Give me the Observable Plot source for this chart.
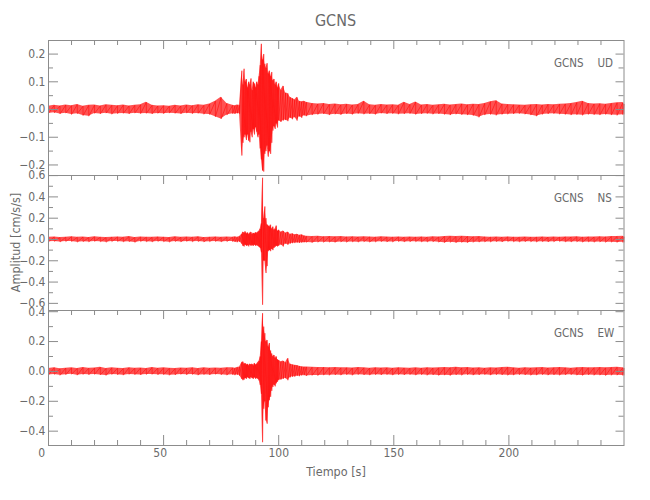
<!DOCTYPE html>
<html><head><meta charset="utf-8">
<script src="https://cdn.jsdelivr.net/npm/d3@7"></script>
<script src="https://cdn.jsdelivr.net/npm/@observablehq/plot@0.6"></script>
<style>
body{margin:0;background:#fff;}
#wrap{position:relative;width:650px;height:500px;overflow:hidden;}
#wrap svg{position:absolute;left:0;top:0;font-stretch:condensed;}
</style></head><body>
<div id="wrap"></div>
<script>
// ---------- data ----------
const title = "GCNS";
const station = "GCNS";
const components = ["UD", "NS", "EW"];
const xLabel = "Tiempo [s]";
const yLabel = "Amplitud [cm/s/s]";

const xMajor = [0, 50, 100, 150, 200];
const xMinor = [10,20,30,40,60,70,80,90,110,120,130,140,160,170,180,190,210,220,230,240];
const xDomain = [0, 250];

const udDomain = [-0.238, 0.249];
const udMajor = [-0.2, -0.1, 0, 0.1, 0.2];
const udMinor = [-0.15, -0.05, 0.05, 0.15];
const nsDomain = [-0.667, 0.601];
const nsMajor = [-0.6, -0.4, -0.2, 0, 0.2, 0.4, 0.6];
const nsMinor = [-0.5, -0.3, -0.1, 0.1, 0.3, 0.5];
const ewDomain = [-0.496, 0.408];
const ewMajor = [-0.4, -0.2, 0, 0.2, 0.4];
const ewMinor = [-0.3, -0.1, 0.1, 0.3];

// time of each envelope sample (s)
const time = [0,2.5,5,7.5,10,12.5,15,17.5,20,22.5,25,27.5,30,32.5,35,37.5,40,42.5,45,47.5,50,52.5,55,57.5,60,62.5,65,67.5,70,72.5,75,77.5,
80,81,82,83,
84,84.5,85,85.5,86,86.5,87,87.5,88,88.5,89,89.5,90,90.5,91,91.5,92,92.5,93,93.5,94,94.5,95,95.5,96,96.5,97,97.5,98,98.5,99,99.5,
100,101,102,103,104,105,106,107,108,109,110,111,
112,114.5,117,119.5,122,124.5,127,129.5,132,134.5,137,139.5,142,144.5,147,149.5,152,154.5,157,159.5,162,164.5,167,169.5,172,174.5,177,179.5,182,184.5,187,189.5,192,194.5,197,199.5,202,204.5,207,209.5,212,214.5,217,219.5,222,224.5,227,229.5,232,234.5,237,239.5,242,244.5,247,249.5,250];

// UD component: upper / lower envelope (cm/s/s)
const udHi = [0.012,0.015,0.013,0.016,0.014,0.018,0.012,0.015,0.016,0.013,
0.017,0.015,0.014,0.016,0.013,0.015,0.017,0.026,0.015,0.013,
0.014,0.012,0.015,0.013,0.016,0.014,0.017,0.015,0.02,0.03,
0.044,0.022,
0.015,0.014,0.016,0.015,
0.14,0.09,0.147,0.1,0.11,0.08,0.1,0.09,0.112,0.07,
0.1,0.094,0.08,0.1,0.09,0.12,0.16,0.237,0.18,0.2,
0.165,0.15,0.167,0.13,0.14,0.12,0.135,0.105,0.11,0.09,
0.1,0.08,
0.094,0.07,0.085,0.06,0.058,0.044,0.04,0.035,0.044,0.03,0.028,0.03,
0.026,0.022,0.02,0.022,0.018,0.02,0.017,0.019,0.016,0.018,
0.03,0.017,0.015,0.018,0.016,0.017,0.015,0.026,0.018,0.027,
0.016,0.018,0.015,0.017,0.019,0.016,0.018,0.02,0.017,0.019,
0.018,0.022,0.028,0.032,0.02,0.018,0.017,0.016,0.015,0.017,
0.018,0.016,0.018,0.017,0.019,0.02,0.022,0.025,0.03,0.022,
0.02,0.021,0.019,0.022,0.024,0.025,0.02];
const udLo = [-0.014,-0.012,-0.016,-0.013,-0.018,-0.015,-0.022,-0.024,-0.014,-0.016,
-0.013,-0.017,-0.015,-0.014,-0.016,-0.013,-0.015,-0.014,-0.016,-0.014,
-0.015,-0.013,-0.014,-0.016,-0.013,-0.015,-0.014,-0.017,-0.018,-0.026,
-0.034,-0.02,
-0.015,-0.016,-0.014,-0.015,
-0.166,-0.12,-0.1,-0.09,-0.11,-0.09,-0.112,-0.118,-0.08,-0.1,
-0.07,-0.09,-0.064,-0.08,-0.1,-0.09,-0.14,-0.18,-0.22,-0.224,
-0.16,-0.15,-0.13,-0.17,-0.15,-0.16,-0.12,-0.076,-0.06,-0.07,
-0.05,-0.065,
-0.04,-0.045,-0.04,-0.038,-0.042,-0.03,-0.035,-0.028,-0.04,-0.025,-0.03,-0.022,
-0.024,-0.02,-0.018,-0.016,-0.02,-0.017,-0.019,-0.016,-0.018,-0.015,
-0.017,-0.016,-0.018,-0.014,-0.016,-0.015,-0.017,-0.016,-0.015,-0.018,
-0.016,-0.015,-0.017,-0.016,-0.018,-0.02,-0.017,-0.019,-0.02,-0.022,
-0.028,-0.02,-0.018,-0.021,-0.018,-0.017,-0.016,-0.015,-0.017,-0.02,
-0.024,-0.018,-0.016,-0.015,-0.017,-0.018,-0.02,-0.019,-0.021,-0.018,
-0.019,-0.02,-0.018,-0.02,-0.021,-0.019,-0.016];

// NS component
const nsHi = [0.02,0.024,0.018,0.022,0.026,0.02,0.023,0.019,0.025,0.021,
0.018,0.022,0.024,0.02,0.027,0.019,0.023,0.021,0.02,0.024,
0.022,0.018,0.025,0.02,0.023,0.021,0.026,0.019,0.022,0.024,
0.02,0.023,
0.022,0.025,0.021,0.028,
0.05,0.07,0.06,0.075,0.055,0.065,0.05,0.06,0.07,0.05,
0.06,0.055,0.065,0.06,0.07,0.08,0.1,0.15,0.58,0.2,
0.31,0.2,0.14,0.13,0.12,0.138,0.1,0.12,0.09,0.1,
0.13,0.08,
0.09,0.07,0.08,0.06,0.07,0.05,0.055,0.045,0.05,0.04,0.045,0.035,
0.03,0.028,0.03,0.026,0.028,0.025,0.027,0.024,0.026,0.023,
0.025,0.024,0.022,0.025,0.023,0.022,0.024,0.021,0.023,0.022,
0.024,0.022,0.025,0.023,0.028,0.03,0.027,0.03,0.028,0.026,
0.027,0.024,0.022,0.023,0.021,0.024,0.022,0.02,0.023,0.021,
0.022,0.024,0.021,0.023,0.022,0.024,0.023,0.025,0.022,0.024,
0.023,0.026,0.024,0.027,0.028,0.03,0.026];
const nsLo = [-0.022,-0.018,-0.024,-0.02,-0.019,-0.025,-0.021,-0.023,-0.018,-0.022,
-0.026,-0.02,-0.019,-0.023,-0.021,-0.028,-0.02,-0.022,-0.024,-0.019,
-0.021,-0.025,-0.02,-0.023,-0.018,-0.022,-0.02,-0.024,-0.021,-0.019,
-0.023,-0.02,
-0.02,-0.023,-0.026,-0.022,
-0.04,-0.06,-0.066,-0.05,-0.06,-0.055,-0.065,-0.05,-0.06,-0.055,
-0.06,-0.05,-0.06,-0.055,-0.06,-0.07,-0.08,-0.12,-0.613,-0.2,
-0.2,-0.315,-0.25,-0.11,-0.1,-0.11,-0.09,-0.1,-0.08,-0.07,
-0.06,-0.066,
-0.06,-0.05,-0.066,-0.04,-0.05,-0.04,-0.035,-0.034,-0.03,-0.032,-0.03,-0.028,
-0.028,-0.03,-0.026,-0.027,-0.025,-0.028,-0.024,-0.026,-0.023,-0.025,
-0.022,-0.025,-0.024,-0.021,-0.023,-0.024,-0.02,-0.023,-0.022,-0.021,
-0.023,-0.024,-0.022,-0.026,-0.03,-0.027,-0.031,-0.028,-0.03,-0.027,
-0.025,-0.023,-0.024,-0.021,-0.023,-0.02,-0.022,-0.024,-0.021,-0.022,
-0.024,-0.021,-0.023,-0.022,-0.02,-0.023,-0.024,-0.022,-0.025,-0.023,
-0.026,-0.024,-0.027,-0.025,-0.028,-0.027,-0.024];

// EW component
const ewHi = [0.02,0.025,0.018,0.022,0.024,0.02,0.026,0.021,0.023,0.028,
0.02,0.024,0.022,0.019,0.025,0.021,0.023,0.02,0.026,0.022,
0.024,0.021,0.019,0.023,0.022,0.025,0.02,0.024,0.021,0.023,
0.022,0.025,
0.024,0.022,0.026,0.03,
0.06,0.065,0.05,0.055,0.045,0.05,0.04,0.05,0.045,0.05,
0.04,0.055,0.045,0.05,0.06,0.07,0.1,0.2,0.39,0.3,
0.256,0.2,0.21,0.166,0.19,0.14,0.12,0.1,0.11,0.09,
0.1,0.08,
0.075,0.065,0.07,0.06,0.088,0.05,0.045,0.042,0.04,0.035,0.032,0.03,
0.03,0.028,0.026,0.027,0.025,0.026,0.024,0.025,0.023,0.026,
0.024,0.022,0.025,0.023,0.024,0.022,0.025,0.023,0.021,0.024,
0.022,0.025,0.023,0.024,0.026,0.025,0.028,0.024,0.026,0.023,
0.025,0.022,0.024,0.023,0.026,0.028,0.024,0.022,0.025,0.023,
0.024,0.026,0.023,0.025,0.027,0.024,0.022,0.025,0.026,0.024,
0.025,0.027,0.024,0.026,0.028,0.025,0.022];
const ewLo = [-0.024,-0.02,-0.026,-0.022,-0.019,-0.025,-0.021,-0.023,-0.02,-0.024,
-0.027,-0.021,-0.023,-0.025,-0.02,-0.022,-0.024,-0.021,-0.02,-0.023,
-0.022,-0.026,-0.024,-0.02,-0.023,-0.021,-0.025,-0.022,-0.024,-0.02,
-0.023,-0.025,
-0.022,-0.025,-0.023,-0.028,
-0.05,-0.059,-0.055,-0.045,-0.05,-0.04,-0.045,-0.05,-0.04,-0.045,
-0.05,-0.04,-0.05,-0.045,-0.05,-0.06,-0.09,-0.15,-0.474,-0.25,
-0.2,-0.328,-0.35,-0.24,-0.193,-0.17,-0.13,-0.104,-0.09,-0.1,
-0.08,-0.07,
-0.059,-0.055,-0.05,-0.045,-0.059,-0.04,-0.036,-0.035,-0.03,-0.032,-0.028,-0.026,
-0.03,-0.027,-0.028,-0.025,-0.026,-0.024,-0.025,-0.023,-0.026,-0.022,
-0.024,-0.025,-0.023,-0.024,-0.022,-0.025,-0.023,-0.024,-0.022,-0.025,
-0.023,-0.026,-0.024,-0.027,-0.025,-0.028,-0.024,-0.026,-0.023,-0.025,
-0.024,-0.022,-0.025,-0.023,-0.024,-0.026,-0.025,-0.023,-0.024,-0.026,
-0.025,-0.023,-0.025,-0.024,-0.026,-0.024,-0.023,-0.025,-0.027,-0.024,
-0.026,-0.025,-0.028,-0.026,-0.025,-0.027,-0.024];

// ---------- layout / style ----------
const W = 650, H = 500, ML = 48, MR = 26.5;
const FONT = "'DejaVu Sans Condensed', 'DejaVu Sans', sans-serif";
const axisColor = "#8c8c8c", textColor = "#6a6a6a";
const traceColor = "#ff0000";

const panels = [
  {comp: components[0], hi: udHi, lo: udLo, domain: udDomain, major: udMajor, minor: udMinor, top: 40, bottom: 175},
  {comp: components[1], hi: nsHi, lo: nsLo, domain: nsDomain, major: nsMajor, minor: nsMinor, top: 175, bottom: 310},
  {comp: components[2], hi: ewHi, lo: ewLo, domain: ewDomain, major: ewMajor, minor: ewMinor, top: 310, bottom: 445}
];

const wrap = document.getElementById("wrap");
const fw = W - ML - MR;

panels.forEach((p, k) => {
  const last = k === panels.length - 1;
  const fh = p.bottom - p.top;
  const rows = time.map((t, i) => ({t, hi: p.hi[i], lo: p.lo[i]}));
  const zig = rows.flatMap(r => [{t: r.t, a: r.hi}, {t: r.t, a: r.lo}]);
  const marks = [
    Plot.areaY(rows, {x: "t", y1: "lo", y2: "hi", fill: traceColor, fillOpacity: 0.68}),
    Plot.line(zig, {x: "t", y: "a", stroke: traceColor, strokeWidth: 0.6, strokeOpacity: 0.85}),
    Plot.frame({stroke: axisColor}),
    Plot.ruleY(p.major, {stroke: axisColor, insetRight: fw - 10}),
    Plot.ruleY(p.minor, {stroke: axisColor, insetRight: fw - 5}),
    Plot.ruleY(p.major, {stroke: axisColor, insetLeft: fw - 8}),
    Plot.ruleY(p.minor, {stroke: axisColor, insetLeft: fw - 5}),
    Plot.ruleX(xMajor, {stroke: axisColor, insetBottom: fh - 9}),
    Plot.ruleX(xMinor, {stroke: axisColor, insetBottom: fh - 5}),
    Plot.axisY(p.major, {anchor: "left", tickSize: 0, tickPadding: 3, tickFormat: d3.format(".1f"), label: null, fontSize: 12, color: textColor}),
    Plot.text([station], {text: d => d, frameAnchor: "top-right", textAnchor: "end", lineAnchor: "bottom", dx: -40.5, dy: 26, fontSize: 11.5, fill: textColor}),
    Plot.text([p.comp], {text: d => d, frameAnchor: "top-right", textAnchor: "start", lineAnchor: "bottom", dx: -26.5, dy: 26, fontSize: 11.5, fill: textColor})
  ];
  if (last) {
    marks.push(
      Plot.ruleX(xMajor, {stroke: axisColor, insetTop: fh - 10}),
      Plot.ruleX(xMinor, {stroke: axisColor, insetTop: fh - 5}),
      Plot.axisX(xMajor, {anchor: "bottom", tickSize: 0, tickPadding: 3, label: null, fontSize: 12, color: textColor,
        tickFormat: d => String(d).padEnd(3, "\u2007")})
    );
  }
  const svg = Plot.plot({
    width: W, height: H,
    marginLeft: ML, marginRight: MR, marginTop: p.top, marginBottom: H - p.bottom,
    x: {type: "linear", domain: xDomain, axis: last ? undefined : null},
    y: {type: "linear", domain: p.domain},
    style: {background: "transparent", overflow: "visible", fontFamily: FONT, fontSize: "12px", color: textColor},
    marks
  });
  wrap.appendChild(svg);
});

// titles
const ns = "http://www.w3.org/2000/svg";
const lab = document.createElementNS(ns, "svg");
lab.setAttribute("width", W); lab.setAttribute("height", H);
lab.style.fontFamily = FONT;
function addText(str, x, y, size, rot) {
  const t = document.createElementNS(ns, "text");
  t.textContent = str;
  t.setAttribute("text-anchor", "middle");
  t.setAttribute("font-size", size);
  t.setAttribute("fill", textColor);
  t.setAttribute("transform", `translate(${x},${y})` + (rot ? ` rotate(${rot})` : ""));
  lab.appendChild(t);
}
addText(title, 335.5, 26, 16, 0);
addText(xLabel, 336, 476, 12.5, 0);
addText(yLabel, 20, 242.5, 12.5, -90);
wrap.appendChild(lab);
</script>
</body></html>
